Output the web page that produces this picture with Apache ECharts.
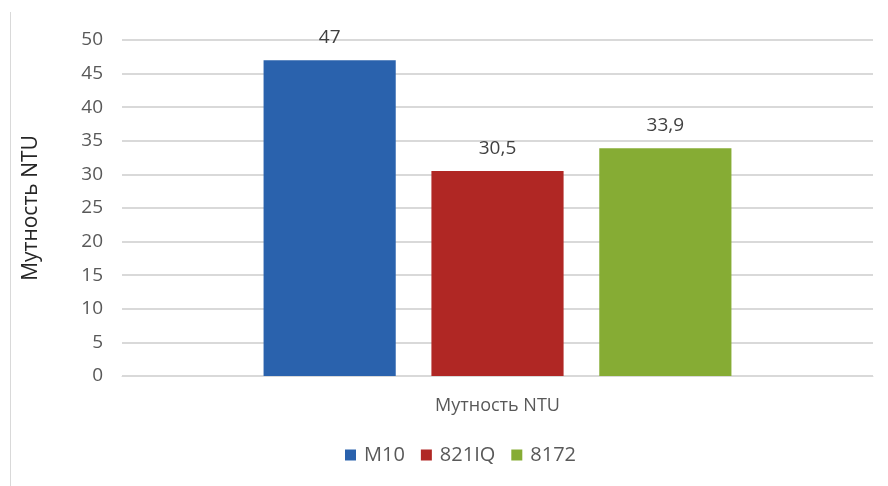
<!DOCTYPE html>
<html>
<head>
<meta charset="utf-8">
<script src="https://cdn.jsdelivr.net/npm/echarts@6/dist/echarts.min.js"></script>
<style>
  html, body { margin: 0; padding: 0; background: #fff; }
  #chart { width: 888px; height: 486px; }
</style>
</head>
<body>
<div id="chart"></div>
<script>
// Turbidity readings per instrument
const categories = ['Мутность NTU'];
const seriesNames = ['M10', '821IQ', '8172'];
const valuesM10 = [47];
const values821IQ = [30.5];
const values8172 = [33.9];
const yTicks = { min: 0, max: 50, step: 5 };

const colors = ['#2A62AD', '#B02724', '#86AC34'];
const font = '"Open Sans", "Noto Sans", sans-serif';
const textColor = '#595959';

const seriesData = [valuesM10, values821IQ, values8172];

const chart = echarts.init(document.getElementById('chart'), null, { renderer: 'canvas' });

chart.setOption({
  animation: false,
  textStyle: { fontFamily: font },
  grid: { left: 122, right: 15, top: 40, bottom: 110, containLabel: false },
  graphic: [{
    type: 'line',
    shape: { x1: 10.5, y1: 12, x2: 10.5, y2: 486 },
    style: { stroke: '#d9d9d9', lineWidth: 1 }
  }],
  legend: {
    top: 445,
    left: 345,
    padding: 0,
    itemWidth: 11,
    itemHeight: 11,
    itemGap: 16,
    icon: 'rect',
    textStyle: { fontFamily: font, fontSize: 20, color: textColor, padding: [0, 0, 0, 3] },
    data: seriesNames
  },
  xAxis: {
    type: 'category',
    data: categories,
    axisLine: { show: true, lineStyle: { color: '#d9d9d9', width: 1 } },
    axisTick: { show: false },
    axisLabel: { fontFamily: font, fontSize: 18, color: textColor, margin: 21 }
  },
  yAxis: {
    type: 'value',
    min: yTicks.min,
    max: yTicks.max,
    interval: yTicks.step,
    name: 'Мутность NTU',
    nameLocation: 'middle',
    nameRotate: 90,
    nameGap: 80,
    nameTextStyle: { fontFamily: font, fontSize: 21, color: '#262626' },
    axisLine: { show: false },
    axisTick: { show: false },
    axisLabel: { fontFamily: font, fontSize: 19, color: textColor, margin: 19 },
    splitLine: { lineStyle: { color: '#d9d9d9', width: 2 } }
  },
  series: seriesNames.map((name, i) => ({
    name: name,
    type: 'bar',
    data: seriesData[i],
    barGap: '27%',
    barCategoryGap: '37.7%',
    itemStyle: { color: colors[i] },
    label: {
      show: true,
      position: 'top',
      distance: 13,
      fontFamily: font,
      fontSize: 19,
      color: '#404040',
      formatter: p => String(p.value).replace('.', ',')
    }
  }))
});
</script>
</body>
</html>
